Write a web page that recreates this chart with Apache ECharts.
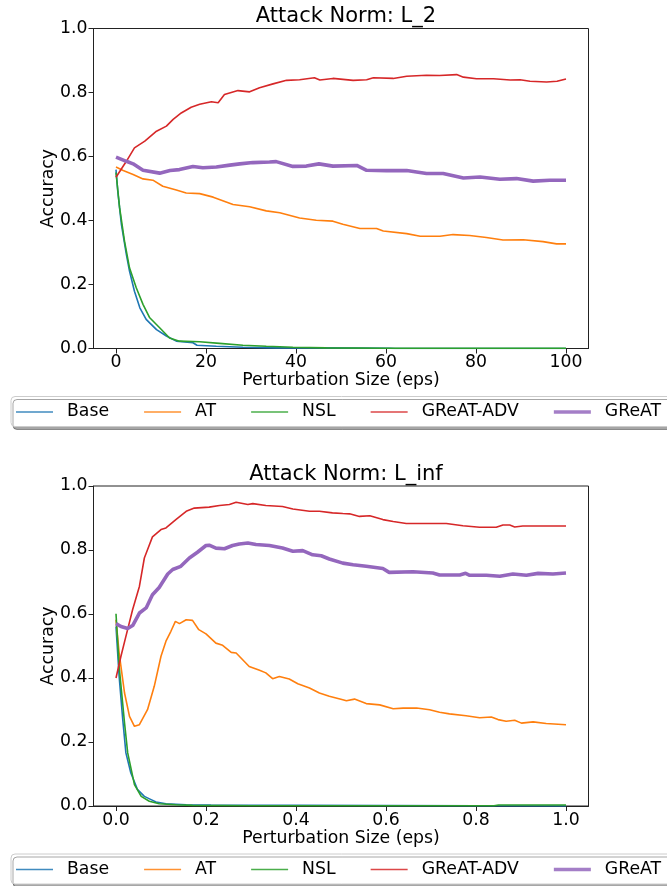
<!DOCTYPE html>
<html>
<head>
<meta charset="utf-8">
<script src="https://cdn.jsdelivr.net/npm/echarts@6/dist/echarts.min.js"></script>
<style>
html,body{margin:0;padding:0;background:#fff;}
#chart{width:667px;height:886px;}
</style>
</head>
<body>
<div id="chart"></div>
<script>
// ---------- DATA ----------
const seriesNames = ['Base', 'AT', 'NSL', 'GReAT-ADV', 'GReAT'];
const titles = ['Attack Norm: L_2', 'Attack Norm: L_inf'];
const xTicksL2 = [0, 20, 40, 60, 80, 100];
const xTicksLinf = [0, 0.2, 0.4, 0.6, 0.8, 1.0];
const yTicks = [0, 0.2, 0.4, 0.6, 0.8, 1.0];

// L_2 panel: [eps, accuracy]
const baseL2 = [[0,0.559],[0.4,0.49],[1.2,0.388],[2.3,0.294],[3,0.242],[4.1,0.179],[5.3,0.127],[6.7,0.091],[9,0.059],[11.2,0.039],[13.4,0.023],[17.1,0.018],[18,0.010],[22.3,0.007],[28.2,0.004],[35.6,0.002],[45,0.002],[61,0.001],[62,0],[100,0]];
const atL2 = [[0,0.567],[1.6,0.556],[3.8,0.544],[6,0.530],[8.2,0.526],[10.4,0.507],[13.4,0.495],[15.6,0.486],[18.6,0.484],[21.6,0.473],[26,0.450],[29.7,0.443],[33.4,0.430],[36.4,0.424],[40.8,0.408],[44.5,0.401],[48.2,0.398],[50.4,0.388],[54.2,0.375],[57.9,0.375],[59.4,0.367],[64.6,0.359],[67.6,0.351],[72,0.351],[74.9,0.356],[78.6,0.353],[82.3,0.347],[86,0.339],[90.5,0.340],[94.9,0.334],[97.9,0.327],[100,0.327]];
const nslL2 = [[0,0.550],[0.8,0.44],[1.9,0.335],[3,0.252],[4.5,0.190],[6,0.138],[7.5,0.096],[9.7,0.065],[11.9,0.033],[14.1,0.023],[18.6,0.021],[23,0.016],[28.2,0.010],[33.4,0.007],[39.3,0.004],[46.7,0.002],[60,0.001],[100,0.001]];
const advL2 = [[0,0.535],[2.3,0.585],[4.1,0.627],[6.4,0.648],[9,0.679],[11.2,0.695],[12.7,0.716],[14.5,0.736],[16.7,0.754],[18.6,0.763],[21.2,0.771],[22.7,0.768],[24.1,0.794],[27.1,0.806],[29.7,0.802],[31.9,0.815],[34.9,0.827],[37.9,0.838],[40.8,0.840],[44.1,0.846],[45.3,0.839],[48.2,0.844],[52.7,0.838],[55.7,0.840],[57.2,0.846],[61.6,0.844],[64.6,0.851],[69,0.854],[71.9,0.853],[75.7,0.856],[77.2,0.848],[80.1,0.843],[83.9,0.843],[87.6,0.839],[89.8,0.840],[92,0.835],[95.7,0.833],[98,0.835],[100,0.842]];
const greatL2 = [[0,0.598],[2.3,0.585],[3.8,0.577],[6,0.557],[9.7,0.548],[12,0.556],[14.1,0.559],[17.1,0.569],[19.3,0.565],[22.3,0.567],[25.3,0.573],[27.5,0.577],[30.4,0.581],[34.1,0.583],[35.6,0.584],[39.3,0.569],[42.3,0.570],[45.1,0.577],[48.2,0.570],[53.5,0.572],[55.7,0.557],[60.1,0.556],[64.6,0.556],[69,0.547],[72.7,0.547],[77.2,0.533],[80.9,0.536],[85.3,0.529],[89,0.531],[92.7,0.523],[96.4,0.526],[100,0.526]];

// L_inf panel: [eps, accuracy]
const baseLinf = [[0,0.561],[0.007,0.405],[0.015,0.270],[0.022,0.166],[0.033,0.103],[0.048,0.051],[0.063,0.030],[0.078,0.020],[0.089,0.0125],[0.111,0.007],[0.156,0.004],[0.211,0.003],[0.215,0],[1.0,0]];
const atLinf = [[0,0.582],[0.007,0.478],[0.019,0.353],[0.030,0.280],[0.041,0.249],[0.052,0.254],[0.070,0.301],[0.085,0.374],[0.100,0.468],[0.111,0.515],[0.122,0.546],[0.132,0.577],[0.141,0.570],[0.156,0.582],[0.170,0.580],[0.184,0.551],[0.200,0.538],[0.222,0.509],[0.237,0.502],[0.256,0.480],[0.267,0.478],[0.296,0.436],[0.319,0.424],[0.333,0.416],[0.348,0.398],[0.363,0.405],[0.385,0.397],[0.404,0.382],[0.430,0.369],[0.452,0.353],[0.474,0.343],[0.504,0.332],[0.512,0.329],[0.530,0.334],[0.556,0.320],[0.586,0.316],[0.616,0.304],[0.638,0.306],[0.668,0.306],[0.697,0.301],[0.719,0.293],[0.741,0.288],[0.778,0.282],[0.808,0.276],[0.834,0.278],[0.849,0.270],[0.867,0.265],[0.886,0.268],[0.901,0.259],[0.927,0.263],[0.956,0.258],[1.0,0.254]];
const nslLinf = [[0,0.601],[0.007,0.436],[0.019,0.259],[0.026,0.166],[0.041,0.067],[0.056,0.030],[0.074,0.015],[0.096,0.007],[0.133,0.004],[0.170,0.002],[0.3,0.001],[0.84,0.001],[0.85,0.003],[1.0,0.003]];
const advLinf = [[0,0.400],[0.011,0.468],[0.022,0.530],[0.037,0.614],[0.052,0.686],[0.063,0.775],[0.070,0.801],[0.081,0.841],[0.100,0.864],[0.111,0.869],[0.133,0.895],[0.156,0.921],[0.174,0.931],[0.207,0.934],[0.230,0.939],[0.252,0.942],[0.267,0.949],[0.293,0.942],[0.304,0.945],[0.333,0.939],[0.370,0.936],[0.393,0.928],[0.430,0.921],[0.452,0.921],[0.481,0.916],[0.504,0.914],[0.519,0.913],[0.541,0.905],[0.564,0.907],[0.593,0.895],[0.616,0.889],[0.645,0.883],[0.682,0.883],[0.734,0.883],[0.771,0.876],[0.808,0.871],[0.845,0.871],[0.860,0.878],[0.875,0.878],[0.886,0.872],[0.904,0.875],[0.941,0.875],[1.0,0.875]];
const greatLinf = [[0,0.570],[0.011,0.561],[0.026,0.555],[0.037,0.564],[0.052,0.603],[0.067,0.619],[0.081,0.660],[0.096,0.683],[0.115,0.725],[0.126,0.739],[0.144,0.749],[0.163,0.775],[0.181,0.793],[0.200,0.814],[0.207,0.815],[0.222,0.806],[0.241,0.804],[0.259,0.814],[0.274,0.819],[0.293,0.822],[0.311,0.817],[0.341,0.814],[0.370,0.806],[0.393,0.796],[0.415,0.798],[0.437,0.785],[0.456,0.782],[0.474,0.772],[0.504,0.759],[0.527,0.754],[0.556,0.749],[0.593,0.742],[0.607,0.730],[0.660,0.732],[0.704,0.728],[0.719,0.722],[0.764,0.722],[0.777,0.727],[0.786,0.721],[0.823,0.721],[0.853,0.718],[0.882,0.725],[0.912,0.721],[0.938,0.727],[0.971,0.725],[1.0,0.728]];

// ---------- STYLE ----------
const FONT = 'DejaVu Sans';
const colors = ['#1f77b4', '#ff7f0e', '#2ca02c', '#d62728', '#9467bd'];
const widths = [1.6, 1.6, 1.6, 1.6, 3.6];
const spine = '#222';
const fs = 17.3;

const panelData = [
  [baseL2, atL2, nslL2, advL2, greatL2],
  [baseLinf, atLinf, nslLinf, advLinf, greatLinf]
];
const gridTops = [28.5, 486];
const xTickSets = [xTicksL2, xTicksLinf];
const xRanges = [[-5, 105], [-0.05, 1.05]];
const xFmt = [v => String(Math.round(v)), v => v.toFixed(1)];

const series = [];
panelData.forEach((pd, p) => {
  pd.forEach((d, i) => {
    series.push({
      name: seriesNames[i], type: 'line', xAxisIndex: p, yAxisIndex: p,
      data: d, symbol: 'none', showSymbol: false, smooth: false,
      lineStyle: {color: colors[i], width: widths[i]},
      itemStyle: {color: colors[i]},
      emphasis: {disabled: true}
    });
  });
});

// legend icons: thin bars shaped like line samples
const legendData = seriesNames.map((n, i) => ({
  name: n,
  icon: 'path://M0,0 L37,0 L37,' + widths[i] + ' L0,' + widths[i] + ' Z',
  itemStyle: {color: colors[i], opacity: 0.85}
}));

const option = {
  animation: false,
  textStyle: {fontFamily: FONT},
  title: titles.map((t, p) => ({
    text: t, left: 341, top: gridTops[p] - 27, textAlign: 'center',
    textStyle: {fontFamily: FONT, fontSize: 21, fontWeight: 'normal', color: '#000'}
  })),
  grid: gridTops.map(t => ({left: 93.5, top: t, width: 495, height: 320, show: true, borderColor: spine, borderWidth: 1, backgroundColor: 'transparent'})),
  legend: gridTops.map(t => ({
    data: legendData, orient: 'horizontal', left: 11, top: t + 368,
    width: 900, itemWidth: 37, itemHeight: 14, itemGap: 35,
    padding: [7, 14, 6, 5],
    backgroundColor: '#fff', borderColor: '#cccccc', borderWidth: 1, borderRadius: 4,
    shadowColor: 'rgba(0,0,0,0.35)', shadowOffsetX: 2, shadowOffsetY: 3, shadowBlur: 0,
    selectedMode: false,
    textStyle: {fontFamily: FONT, fontSize: fs, color: '#000', padding: [3, 0, 2, 9]}
  })),
  xAxis: gridTops.map((t, p) => ({
    type: 'value', gridIndex: p, min: xRanges[p][0], max: xRanges[p][1],
    name: 'Perturbation Size (eps)', nameLocation: 'middle', nameGap: 24, nameMoveOverlap: false,
    nameTextStyle: {fontFamily: FONT, fontSize: fs, color: '#000'},
    axisLine: {show: true, onZero: false, lineStyle: {color: spine, width: 1}},
    axisTick: {show: true, length: 5, customValues: xTickSets[p], lineStyle: {color: spine, width: 1}},
    axisLabel: {customValues: xTickSets[p], fontFamily: FONT, fontSize: fs, color: '#000', margin: 6, formatter: xFmt[p]},
    splitLine: {show: false}
  })),
  yAxis: gridTops.map((t, p) => ({
    type: 'value', gridIndex: p, min: 0, max: 1, interval: 0.2,
    name: 'Accuracy', nameLocation: 'middle', nameGap: 36, nameMoveOverlap: false,
    nameTextStyle: {fontFamily: FONT, fontSize: fs, color: '#000'},
    axisLine: {show: true, onZero: false, lineStyle: {color: spine, width: 1}},
    axisTick: {show: true, length: 5, lineStyle: {color: spine, width: 1}},
    axisLabel: {fontFamily: FONT, fontSize: fs, color: '#000', margin: 6, formatter: v => v.toFixed(1)},
    splitLine: {show: false}
  })),
  series: series
};

const chart = echarts.init(document.getElementById('chart'), null, {renderer: 'canvas'});
chart.setOption(option);
</script>
</body>
</html>
